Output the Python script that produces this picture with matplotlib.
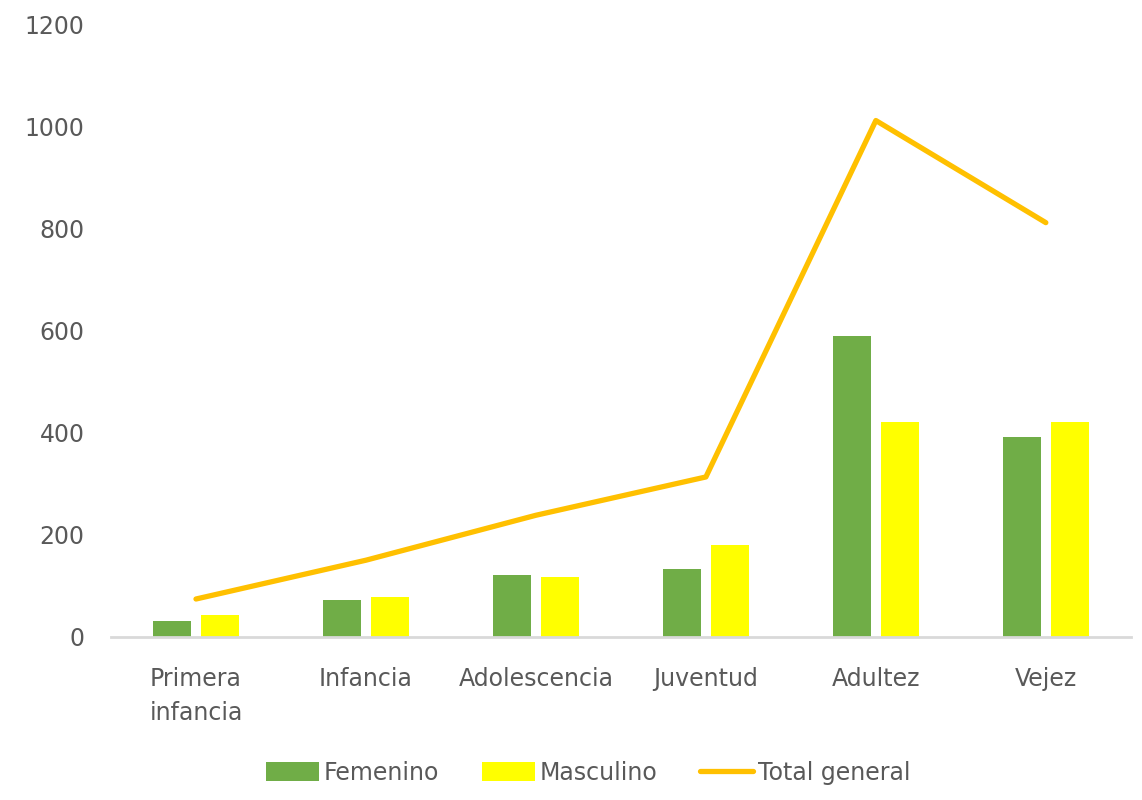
import matplotlib.pyplot as plt
import numpy as np

# Grupos de edad
categorias = ['Primera\ninfancia', 'Infancia', 'Adolescencia', 'Juventud', 'Adultez', 'Vejez']
femenino = [31, 72, 121, 133, 590, 391]
masculino = [43, 78, 117, 180, 421, 420]
total_general = [74, 150, 238, 313, 1011, 811]

verde = '#70AD47'
amarillo = '#FFFF00'
naranja = '#FFC000'
gris_texto = '#595959'

plt.rcParams['font.family'] = ['DejaVu Sans']

fig = plt.figure(figsize=(11.42, 8), dpi=100)
ax = fig.add_axes([0.0972, 0.204, 0.893, 0.766])

x = np.arange(len(categorias))
ancho = 0.224
b1 = ax.bar(x - 0.142, femenino, ancho, color=verde, label='Femenino', zorder=2)
b2 = ax.bar(x + 0.142, masculino, ancho, color=amarillo, label='Masculino', zorder=2)
l1, = ax.plot(x, total_general, color=naranja, linewidth=3.8, solid_capstyle='round',
              label='Total general', zorder=3)

ax.set_xlim(-0.5, len(categorias) - 0.5)
ax.set_ylim(0, 1200)
ax.set_yticks(np.arange(0, 1201, 200))
ax.set_xticks(x)
ax.set_xticklabels(categorias, linespacing=1.5)

for s in ['top', 'right', 'left']:
    ax.spines[s].set_visible(False)
ax.spines['bottom'].set_color('#D9D9D9')
ax.spines['bottom'].set_linewidth(2)
ax.tick_params(axis='both', length=0, colors=gris_texto, labelsize=17)
ax.tick_params(axis='y', pad=19)
ax.tick_params(axis='x', pad=22)

fig.legend([b1, b2, l1], ['Femenino', 'Masculino', 'Total general'],
           loc='center', bbox_to_anchor=(0.515, 0.034), ncol=3, frameon=False,
           fontsize=17, labelcolor=gris_texto, handlelength=2.25, handleheight=0.9,
           handletextpad=0.2, columnspacing=1.8)

plt.savefig('out.png', dpi=100)
plt.close()
